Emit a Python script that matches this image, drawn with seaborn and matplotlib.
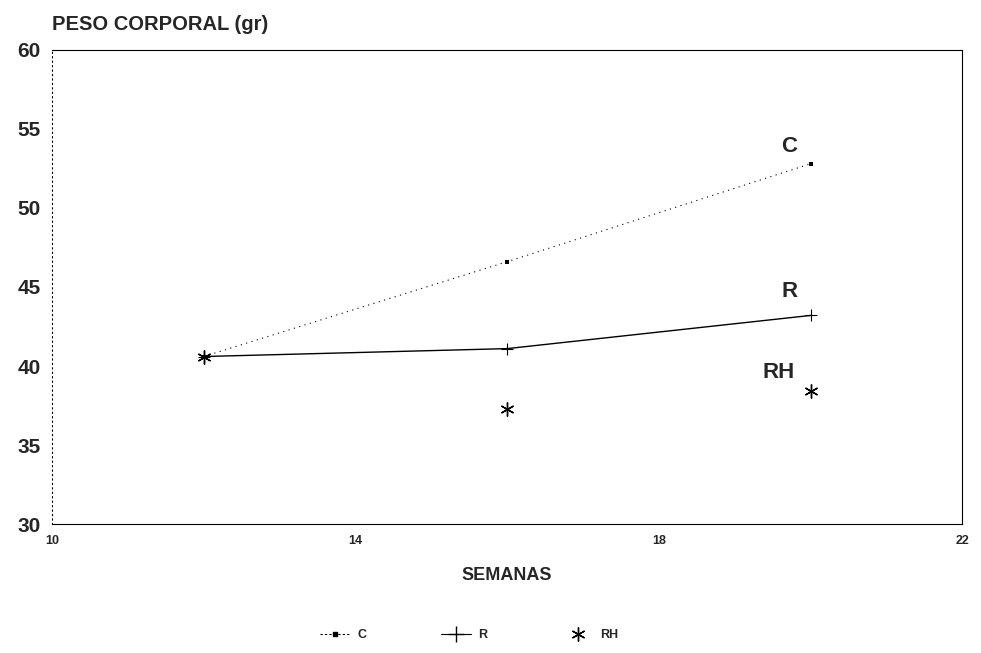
import matplotlib
matplotlib.use("Agg")
import matplotlib.pyplot as plt
import seaborn as sns
import pandas as pd
from matplotlib.lines import Line2D

semanas = [12, 16, 20]
c_vals = [40.6, 46.6, 52.8]
r_vals = [40.6, 41.1, 43.2]
rh_vals = [40.6, 37.3, 38.4]
x_ticks = [10, 14, 18, 22]
y_ticks = [30, 35, 40, 45, 50, 55, 60]

sns.set_theme(style="white")
plt.rcParams['font.family'] = ['Liberation Sans', 'DejaVu Sans']

fig = plt.figure(figsize=(9.81, 6.53), dpi=100)
ax = fig.add_axes([0.053, 0.1975, 0.928, 0.726])

dfc = pd.DataFrame({"x": semanas, "y": c_vals})
dfr = pd.DataFrame({"x": semanas, "y": r_vals})
dfrh = pd.DataFrame({"x": semanas, "y": rh_vals})

sns.lineplot(data=dfc, x="x", y="y", ax=ax, color="black", lw=0.8,
             linestyle=(0, (1, 4)), marker="s", markersize=3,
             markeredgewidth=0, markerfacecolor="black")
sns.lineplot(data=dfr, x="x", y="y", ax=ax, color="black", lw=1.0,
             linestyle="-", marker="+", markersize=9, markeredgewidth=0.8,
             markeredgecolor="black")
ax.plot(dfrh["x"], dfrh["y"], linestyle="none", color="black",
        marker=(6, 2, 0), markersize=10, markeredgewidth=1.0)

ax.set_xlim(10, 22)
ax.set_ylim(30, 60)
ax.set_xticks(x_ticks)
ax.set_yticks(y_ticks)
ax.set_xticklabels([str(t) for t in x_ticks], fontsize=9, fontweight="bold")
ax.set_yticklabels([str(t) for t in y_ticks], fontsize=15, fontweight="bold")
ax.tick_params(axis="both", direction="in", length=4, width=0.8, color="black")
ax.tick_params(axis="y", pad=8)
ax.tick_params(axis="x", pad=8)
for s in ax.spines.values():
    s.set_color("black")
    s.set_linewidth(0.8)
ax.spines["left"].set_linestyle((0, (1, 3)))

ax.set_xlabel("SEMANAS", fontsize=13, fontweight="bold", labelpad=14)
ax.set_ylabel("")
fig.text(0.053, 0.962, "PESO CORPORAL (gr)", fontsize=14.5, fontweight="bold",
         ha="left", va="center")

ax.text(19.72, 53.9, "C", fontsize=16, fontweight="bold", ha="center", va="center")
ax.text(19.72, 44.7, "R", fontsize=16, fontweight="bold", ha="center", va="center")
ax.text(19.58, 39.6, "RH", fontsize=16, fontweight="bold", ha="center", va="center")

handles = [
    Line2D([], [], color="black", lw=0.8, linestyle=(0, (2, 2)), marker="s", markersize=3),
    Line2D([], [], color="black", lw=0.8, marker="+", markersize=12),
    Line2D([], [], color="black", lw=0, marker=(6, 2, 0), markersize=10),
]
fig.legend(handles, ["C", "R", "RH"], loc="center", bbox_to_anchor=(0.478, 0.027),
           ncol=3, frameon=False, handlelength=2.4, columnspacing=6.0,
           handletextpad=0.6,
           prop={"family": "Liberation Sans", "weight": "bold", "size": 9})

fig.savefig("out.png", dpi=100)
